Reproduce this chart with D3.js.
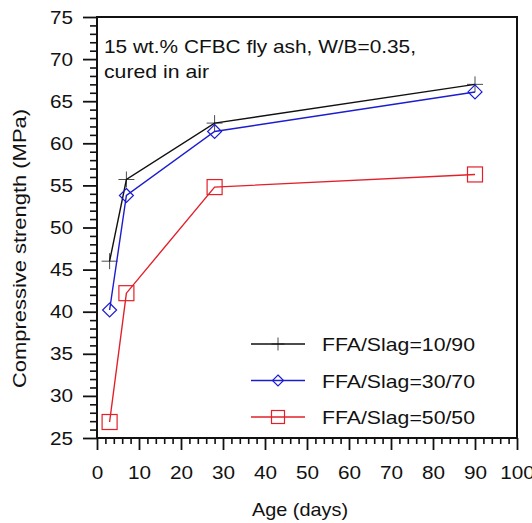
<!DOCTYPE html>
<html>
<head>
<meta charset="utf-8">
<script src="https://cdn.jsdelivr.net/npm/d3@7"></script>
<style>
  body { margin: 0; background: #fff; }
  svg text { font-family: "Liberation Sans", Arial, Helvetica, sans-serif; fill: #111; }
</style>
</head>
<body>
<div id="chart"></div>
<script>
'use strict';

// data
var ages = [3, 7, 28, 90];
var seriesNames = ['FFA/Slag=10/90', 'FFA/Slag=30/70', 'FFA/Slag=50/50'];
var slag10_90 = [46.0, 55.7, 62.4, 67.0];
var slag30_70 = [40.2, 53.8, 61.4, 66.1];
var slag50_50 = [26.9, 42.2, 54.8, 56.3];
var seriesColors = ['#111111', '#1c1cd0', '#e3202a'];
var seriesMarkers = ['plus', 'diamond', 'square'];
var xTicks = [0, 10, 20, 30, 40, 50, 60, 70, 80, 90, 100];
var yTicks = [25, 30, 35, 40, 45, 50, 55, 60, 65, 70, 75];
var noteLines = ['15 wt.% CFBC fly ash, W/B=0.35,', 'cured in air'];

var width = 532, height = 523;
var margin = { top: 17, right: 15, bottom: 85, left: 97 };
var fontSize = 19;
var stretch = 1.09; // the original lettering is a bit wider than Arial

var series = [slag10_90, slag30_70, slag50_50].map(function (vals, i) {
    return {
        name: seriesNames[i],
        color: seriesColors[i],
        marker: seriesMarkers[i],
        values: vals.map(function (v, j) { return { x: ages[j], y: v }; })
    };
});

var svg = d3.select('#chart')
    .append('svg')
    .attr('width', width)
    .attr('height', height);

var x = d3.scaleLinear().domain([0, 100]).range([margin.left, width - margin.right]);
var y = d3.scaleLinear().domain([25, 75]).range([height - margin.bottom, margin.top]);

// widen text a little, or force to a given length
function widen(sel, len) {
    sel.each(function () {
        var w = len || this.getComputedTextLength() * stretch;
        d3.select(this).attr('textLength', w).attr('lengthAdjust', 'spacingAndGlyphs');
    });
}

// minor ticks
var xMinor = d3.range(0, 101, 2).filter(function (d) { return d % 10 !== 0; });
var yMinor = d3.range(25, 76, 1).filter(function (d) { return d % 5 !== 0; });

svg.append('g')
    .attr('transform', 'translate(0,' + y(25) + ')')
    .call(d3.axisBottom(x).tickValues(xMinor).tickSize(6).tickFormat(''))
    .call(function (g) { g.select('.domain').remove(); })
    .selectAll('line').attr('stroke', '#111').attr('stroke-width', 1.6);

svg.append('g')
    .attr('transform', 'translate(' + x(0) + ',0)')
    .call(d3.axisLeft(y).tickValues(yMinor).tickSize(7).tickFormat(''))
    .call(function (g) { g.select('.domain').remove(); })
    .selectAll('line').attr('stroke', '#111').attr('stroke-width', 1.6);

// major ticks + labels
var xAxis = svg.append('g')
    .attr('transform', 'translate(0,' + y(25) + ')')
    .call(d3.axisBottom(x).tickValues(xTicks).tickSize(12).tickPadding(16));
xAxis.select('.domain').remove();
xAxis.selectAll('line').attr('stroke', '#111').attr('stroke-width', 1.8);
xAxis.selectAll('text').attr('font-size', fontSize).attr('fill', '#111').call(widen);

var yAxis = svg.append('g')
    .attr('transform', 'translate(' + x(0) + ',0)')
    .call(d3.axisLeft(y).tickValues(yTicks).tickSize(14).tickPadding(10));
yAxis.select('.domain').remove();
yAxis.selectAll('line').attr('stroke', '#111').attr('stroke-width', 1.8);
yAxis.selectAll('text').attr('font-size', fontSize).attr('fill', '#111').call(widen);

// frame
svg.append('rect')
    .attr('x', x(0))
    .attr('y', y(75))
    .attr('width', x(100) - x(0))
    .attr('height', y(25) - y(75))
    .attr('fill', 'none')
    .attr('stroke', '#111')
    .attr('stroke-width', 2);

// axis titles
svg.append('text')
    .attr('x', 300)
    .attr('y', 516)
    .attr('text-anchor', 'middle')
    .attr('font-size', fontSize)
    .text('Age (days)')
    .call(widen, 96);

svg.append('text')
    .attr('transform', 'translate(26,248.5) rotate(-90)')
    .attr('text-anchor', 'middle')
    .attr('font-size', fontSize)
    .text('Compressive strength (MPa)')
    .call(widen, 279);

// annotation
var noteWidths = [312, 105];
svg.append('g').selectAll('text')
    .data(noteLines)
    .enter()
    .append('text')
    .attr('x', 104)
    .attr('y', function (d, i) { return 53 + i * 25; })
    .attr('font-size', fontSize)
    .text(function (d) { return d; })
    .each(function (d, i) { widen(d3.select(this), noteWidths[i]); });

// marker drawing
function drawMarker(sel, type, color, s) {
    if (type === 'plus') {
        sel.append('path')
            .attr('d', 'M' + (-s) + ',0H' + s + 'M0,' + (-s) + 'V' + s)
            .attr('stroke', color).attr('stroke-width', 1).attr('fill', 'none').attr('opacity', 0.75);
    } else if (type === 'diamond') {
        sel.append('path')
            .attr('d', 'M0,' + (-s) + 'L' + s + ',0L0,' + s + 'L' + (-s) + ',0Z')
            .attr('stroke', color).attr('stroke-width', 1.2).attr('fill', 'none');
    } else {
        sel.append('rect')
            .attr('x', -s).attr('y', -s).attr('width', 2 * s).attr('height', 2 * s)
            .attr('stroke', color).attr('stroke-width', 1.2).attr('fill', 'none');
    }
}

var line = d3.line()
    .x(function (d) { return x(d.x); })
    .y(function (d) { return y(d.y); });

var sizes = { plus: 8, diamond: 7, square: 7.5 };

series.forEach(function (s) {
    svg.append('path')
        .datum(s.values)
        .attr('d', line)
        .attr('fill', 'none')
        .attr('stroke', s.color)
        .attr('stroke-width', 1.4);

    svg.append('g').selectAll('g')
        .data(s.values)
        .enter()
        .append('g')
        .attr('transform', function (d) { return 'translate(' + x(d.x) + ',' + y(d.y) + ')'; })
        .each(function () { drawMarker(d3.select(this), s.marker, s.color, sizes[s.marker]); });
});

// legend
var legend = svg.append('g');
var legendSizes = { plus: 6.5, diamond: 5.5, square: 6.5 };
series.forEach(function (s, i) {
    var cy = 344 + i * 36.5;
    var row = legend.append('g');
    row.append('line')
        .attr('x1', 251).attr('x2', 305)
        .attr('y1', cy).attr('y2', cy)
        .attr('stroke', s.color).attr('stroke-width', 1.4);
    drawMarker(row.append('g').attr('transform', 'translate(278,' + cy + ')'), s.marker, s.color, legendSizes[s.marker]);
    row.append('text')
        .attr('x', 322)
        .attr('y', cy + 7)
        .attr('font-size', fontSize)
        .text(s.name)
        .call(widen, 153);
});
</script>
</body>
</html>
